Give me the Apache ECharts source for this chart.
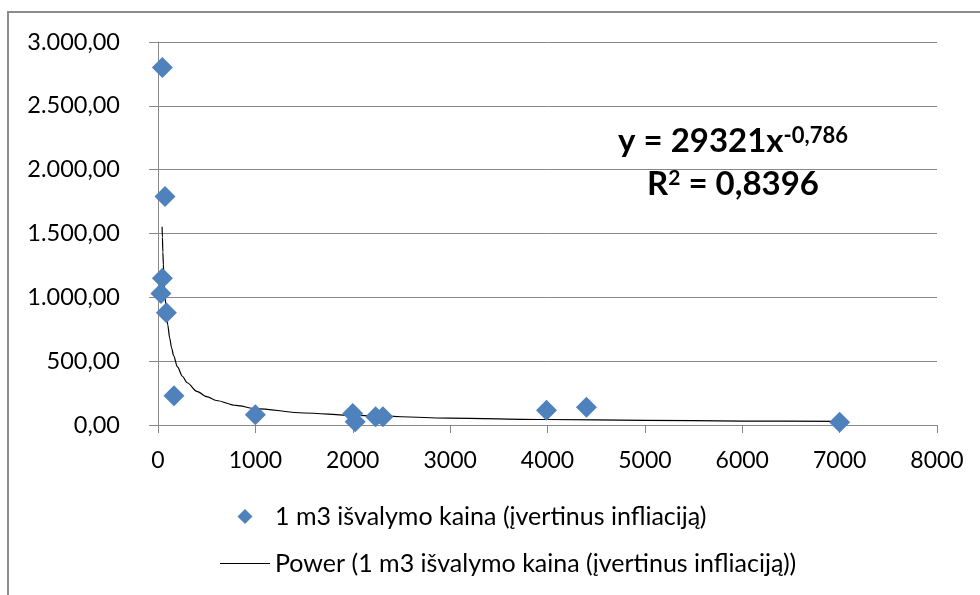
<!DOCTYPE html>
<html>
<head>
<meta charset="utf-8">
<script src="https://cdn.jsdelivr.net/npm/echarts@6/dist/echarts.min.js"></script>
<style>
html,body{margin:0;padding:0;background:#fff;}
#chart{width:980px;height:595px;}
</style>
</head>
<body>
<div id="chart"></div>
<script>
// Data
var seriesName = '1 m3 išvalymo kaina (įvertinus infliaciją)';
var trendName = 'Power (1 m3 išvalymo kaina (įvertinus infliaciją))';
var pointX = [45, 72, 45, 30, 86, 164, 1000, 2000, 2025, 2235, 2310, 3990, 4400, 7000];
var pointY = [2800, 1790, 1150, 1030, 880, 230, 80, 90, 25, 65, 65, 115, 140, 22];
// Trend line points
var trendX = [42, 45, 50, 55, 60, 70, 80, 90, 100, 120, 140, 160, 200, 250, 300, 400, 500, 600, 800, 1000, 1500, 2000, 3000, 4000, 5000, 6000, 7000];
var trendY = [1552, 1472, 1354, 1256, 1173, 1040, 936, 853, 785, 681, 603, 543, 455, 382, 331, 264, 222, 192, 153, 129, 94, 75, 54, 43, 36, 31, 28];
var xTicks = [0, 1000, 2000, 3000, 4000, 5000, 6000, 7000, 8000];
var yTicks = [0, 500, 1000, 1500, 2000, 2500, 3000];
var equationText = 'y = 29321x';
var exponentText = '-0,786';
var r2Base = 'R';
var r2Sup = '2';
var r2Rest = ' = 0,8396';

var FONT = 'Lato';
function fmtY(v) {
  var s = Math.round(v).toString().replace(/\B(?=(\d{3})+(?!\d))/g, '.');
  return s + ',00';
}
function fmtX(v) { return String(Math.round(v)); }
var scatterData = pointX.map(function (x, i) { return [x, pointY[i]]; });
var trendData = trendX.map(function (x, i) { return [x, trendY[i]]; });

var chart = echarts.init(document.getElementById('chart'));
chart.setOption({
  animation: false,
  backgroundColor: '#ffffff',
  grid: { left: 158, right: 43, top: 42, bottom: 170 },
  xAxis: {
    type: 'value', min: xTicks[0], max: xTicks[xTicks.length - 1], interval: 1000,
    axisLine: { show: true, lineStyle: { color: '#888888', width: 1 } },
    axisTick: { show: true, length: 8, lineStyle: { color: '#888888' } },
    splitLine: { show: false },
    axisLabel: { color: '#000', fontFamily: FONT, fontSize: 23, margin: 24, formatter: fmtX }
  },
  yAxis: {
    type: 'value', min: yTicks[0], max: yTicks[yTicks.length - 1], interval: 500,
    axisLine: { show: true, lineStyle: { color: '#888888', width: 1 } },
    axisTick: { show: true, length: 9, lineStyle: { color: '#888888' } },
    splitLine: { show: true, lineStyle: { color: '#888888', width: 1 } },
    axisLabel: { color: '#000', fontFamily: FONT, fontSize: 23.5, margin: 38, formatter: fmtY }
  },
  legend: {
    orient: 'vertical', left: 215, top: 499,
    itemWidth: 50, itemHeight: 15, itemGap: 22,
    symbolKeepAspect: true,
    textStyle: { color: '#000', fontFamily: FONT, fontSize: 25 },
    data: [
      { name: seriesName, icon: 'path://M0,-1L1,0L0,1L-1,0Z', itemStyle: { color: '#4F81BD' } },
      { name: trendName, icon: 'path://M0,0L50,0L50,1.2L0,1.2Z', itemStyle: { color: '#000000' } }
    ]
  },
  series: [
    {
      name: seriesName, type: 'scatter', symbol: 'diamond', symbolSize: 21,
      itemStyle: { color: '#4F81BD', opacity: 1 },
      data: scatterData, z: 3
    },
    {
      name: trendName, type: 'line', symbol: 'none', smooth: 0.3,
      smoothMonotone: 'x',
      lineStyle: { color: '#000000', width: 1.2 },
      itemStyle: { color: '#000000' },
      data: trendData, z: 2
    }
  ],
  graphic: [
    {
      type: 'rect', silent: true,
      shape: { x: 8, y: 12, width: 1200, height: 800 },
      style: { fill: 'none', stroke: '#8c8c8c', lineWidth: 2 }
    },
    {
      type: 'text', x: 733, y: 141,
      style: {
        text: '{m|' + equationText + '}{s|' + exponentText + '}',
        align: 'center', verticalAlign: 'middle',
        rich: {
          m: { fontFamily: FONT, fontWeight: 'bold', fontSize: 33, fill: '#000' },
          s: { fontFamily: FONT, fontWeight: 'bold', fontSize: 22, fill: '#000', verticalAlign: 'top' }
        }
      }
    },
    {
      type: 'text', x: 733, y: 184,
      style: {
        text: '{m|' + r2Base + '}{s|' + r2Sup + '}{m|' + r2Rest + '}',
        align: 'center', verticalAlign: 'middle',
        rich: {
          m: { fontFamily: FONT, fontWeight: 'bold', fontSize: 33, fill: '#000' },
          s: { fontFamily: FONT, fontWeight: 'bold', fontSize: 21, fill: '#000', verticalAlign: 'top' }
        }
      }
    }
  ]
});
</script>
</body>
</html>
